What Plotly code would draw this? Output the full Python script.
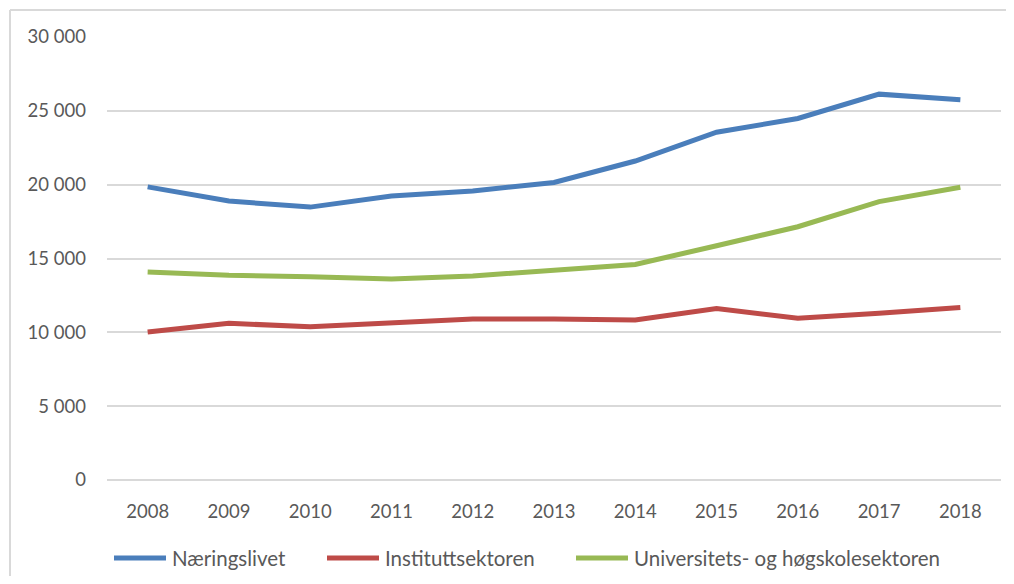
import plotly.graph_objects as go

years = ["2008", "2009", "2010", "2011", "2012", "2013", "2014", "2015", "2016", "2017", "2018"]
naeringslivet = [19850, 18890, 18480, 19230, 19570, 20150, 21600, 23550, 24480, 26130, 25750]
instituttsektoren = [10020, 10610, 10380, 10620, 10900, 10900, 10830, 11620, 10950, 11290, 11680]
uh_sektoren = [14080, 13860, 13770, 13610, 13820, 14220, 14600, 15860, 17150, 18850, 19830]

series_names = ["Næringslivet", "Instituttsektoren", "Universitets- og høgskolesektoren"]
colors = ["#4A7EBB", "#BE4B48", "#98B954"]

y_tickvals = [0, 5000, 10000, 15000, 20000, 25000, 30000]
y_ticktext = ["0", "5 000", "10 000", "15 000", "20 000", "25 000", "30 000"]

# page has an 8px body margin; work in page pixels and convert
OFF = 8
W, H = 1014 - 2 * OFF, 584 - 2 * OFF
PL, PR, PT, PB = 107, 1001, 37, 480  # plot area in page pixels
L, R, T, B = PL - OFF, W - (PR - OFF), PT - OFF, H - (PB - OFF)
pw, ph = PR - PL, PB - PT

def px_x(x):
    return (x - PL) / pw

def px_y(y):
    return (PB - y) / ph

fig = go.Figure()
for name, vals, col in zip(series_names, [naeringslivet, instituttsektoren, uh_sektoren], colors):
    fig.add_trace(go.Scatter(x=years, y=vals, mode="lines", name=name,
                             line=dict(color=col, width=5), showlegend=False))

shapes = [
    dict(type="line", xref="paper", yref="paper", x0=px_x(10), x1=px_x(1014),
         y0=px_y(10), y1=px_y(10), line=dict(color="#D9D9D9", width=2)),
    dict(type="line", xref="paper", yref="paper", x0=px_x(10), x1=px_x(10),
         y0=px_y(10), y1=px_y(584), line=dict(color="#D9D9D9", width=2)),
]
annotations = []
legend_starts = [114, 327, 576]
legend_y = 558
for name, col, x0 in zip(series_names, colors, legend_starts):
    shapes.append(dict(type="line", xref="paper", yref="paper",
                       x0=px_x(x0), x1=px_x(x0 + 52), y0=px_y(legend_y), y1=px_y(legend_y),
                       line=dict(color=col, width=5)))
    annotations.append(dict(xref="paper", yref="paper", x=px_x(x0 + 56), y=px_y(legend_y),
                            xanchor="left", yanchor="middle", showarrow=False, text=name,
                            font=dict(size=20.5, color="#595959")))

fig.update_layout(
    width=W, height=H,
    margin=dict(l=L, r=R, t=T, b=B),
    paper_bgcolor="white", plot_bgcolor="white",
    font=dict(family="Lato, 'Open Sans', sans-serif", size=18, color="#595959"),
    showlegend=False,
    xaxis=dict(type="category", range=[-0.5, 10.5], showgrid=False, showline=False,
               zeroline=False, ticks="", ticklabelstandoff=18, tickfont=dict(size=18.5)),
    yaxis=dict(range=[0, 30000], tickvals=y_tickvals, ticktext=y_ticktext,
               showgrid=True, gridcolor="#D9D9D9", gridwidth=1.5,
               zeroline=True, zerolinecolor="#D9D9D9", zerolinewidth=1.5,
               showline=False, ticks="", ticklabelstandoff=20, tickfont=dict(size=18.5)),
    shapes=shapes,
    annotations=annotations,
)

fig.write_html("out.html")
